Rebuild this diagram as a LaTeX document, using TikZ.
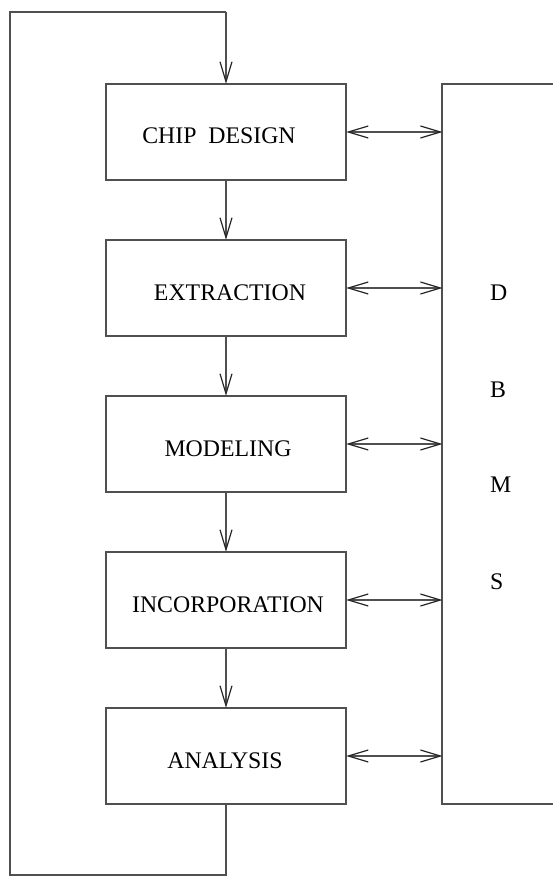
\documentclass[tikz,border=0pt]{standalone}
\usepackage{fontspec}
\setmainfont{Liberation Serif}
\usetikzlibrary{arrows.meta}
\definecolor{linegray}{RGB}{80,80,80}
\tikzset{
  stage/.style={draw=linegray, line width=1.4pt, minimum width=240pt, minimum height=96pt, inner sep=0pt},
  stagetext/.style={anchor=base, inner sep=0pt, font=\fontsize{23.8}{28}\selectfont},
  dbtext/.style={anchor=base west, inner sep=0pt, font=\fontsize{23.8}{28}\selectfont},
  wire/.style={draw=linegray, line width=1.4pt},
  barb/.tip={Straight Barb[length=20pt,width=12pt,line width=1.2pt,color=black!85]},
  flow/.style={wire, -barb, shorten >=-0.5pt},
  link/.style={wire, barb-barb, shorten >=-0.5pt, shorten <=-0.5pt}
}
\begin{document}
\begin{tikzpicture}[x=1pt,y=-1pt]
\useasboundingbox (0,0) rectangle (553,877);

% design flow stages
\node[stage] (chip) at (226,132) {};
\node[stage] (extr) at (226,288) {};
\node[stage] (model) at (226,444) {};
\node[stage] (incorp) at (226,600) {};
\node[stage] (anal) at (226,756) {};

\node[stagetext] (tchip) at (219,144) {CHIP~\ DESIGN};
\node[stagetext] (textr) at (230,300) {EXTRACTION};
\node[stagetext] (tmodel) at (228,456) {MODELING};
\node[stagetext] (tincorp) at (228,612) {INCORPORATION};
\node[stagetext] (tanal) at (225,768) {ANALYSIS};

% database box, open on the right
\coordinate (dbtr) at (560,84);
\coordinate (dbtl) at (442,84);
\coordinate (dbbl) at (442,804);
\coordinate (dbbr) at (560,804);
\draw[wire] (dbtr) -- (dbtl) -- (dbbl) -- (dbbr);

\node[dbtext] (dD) at (490,300) {D};
\node[dbtext] (dB) at (490,397) {B};
\node[dbtext] (dM) at (490,492) {M};
\node[dbtext] (dS) at (490,589) {S};

% stage to stage
\draw[flow] (chip) -- (extr);
\draw[flow] (extr) -- (model);
\draw[flow] (model) -- (incorp);
\draw[flow] (incorp) -- (anal);

% feedback loop
\coordinate (lb) at (226,875);
\coordinate (lbl) at (10,875);
\coordinate (ltl) at (10,12);
\coordinate (lt) at (226,12);
\draw[wire, line join=miter] (anal.south) -- (lb) -- (lbl) -- (ltl) -- (lt);
\draw[flow] (lt) -- (chip.north);

% links to the database
\draw[link] (chip.east) -- (chip.east -| dbtl);
\draw[link] (extr.east) -- (extr.east -| dbtl);
\draw[link] (model.east) -- (model.east -| dbtl);
\draw[link] (incorp.east) -- (incorp.east -| dbtl);
\draw[link] (anal.east) -- (anal.east -| dbtl);
\end{tikzpicture}
\end{document}
